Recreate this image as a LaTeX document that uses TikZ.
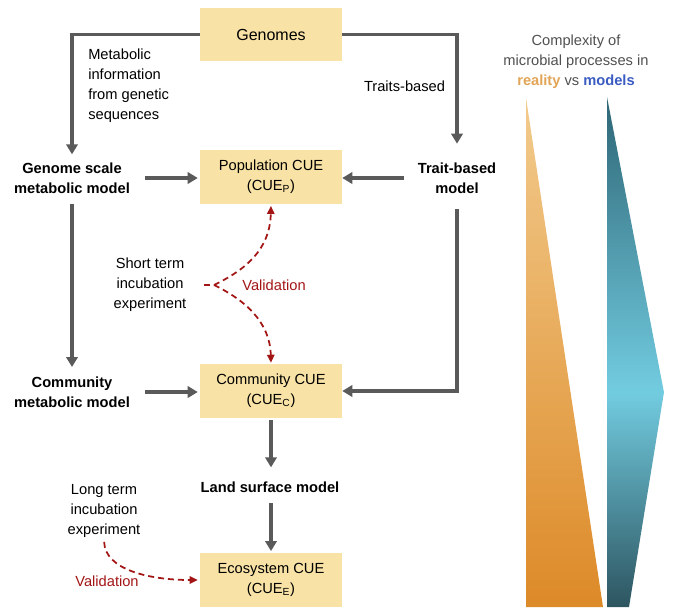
\documentclass[tikz,border=0pt]{standalone}
\usepackage{fontspec}
\setmainfont{Liberation Sans}
\usetikzlibrary{arrows.meta}
\definecolor{boxfill}{HTML}{F8E2A6}
\definecolor{arrowgray}{HTML}{5A5A5A}
\definecolor{valred}{HTML}{A31515}
\definecolor{txtgray}{HTML}{505050}
\definecolor{realorange}{HTML}{E2A456}
\definecolor{modelblue}{HTML}{3A5CC2}
\definecolor{orangetop}{HTML}{F2CB8D}
\definecolor{orangebot}{HTML}{DD8A28}
\definecolor{tealtop}{HTML}{2E6676}
\definecolor{tealmid}{HTML}{72CCE0}
\definecolor{tealbot}{HTML}{2D5560}
\begin{document}
\begin{tikzpicture}[x=0.75pt,y=-0.75pt,
  font=\fontsize{11}{15}\selectfont,
  cuebox/.style={fill=boxfill, minimum width=106.5pt, minimum height=40pt, inner sep=0, align=center},
  plain/.style={inner sep=0, align=center},
  boldtxt/.style={inner sep=0, align=center, font=\fontsize{11}{15}\selectfont\bfseries},
  flow/.style={draw=arrowgray, line width=2.4pt, -{Triangle[length=7.5pt,width=8.5pt]}},
  valid/.style={draw=valred, line width=1.3pt, dash pattern=on 4.5pt off 3pt, -{Triangle[length=6pt,width=5.5pt]}},
]
\useasboundingbox (0,0) rectangle (680,615);

% boxes
\node[cuebox, font=\fontsize{12}{15}\selectfont] (genomes) at (271,34.5) {Genomes};
\node[cuebox] (pop) at (271,177) {Population CUE\\(CUE\textsubscript{P})};
\node[cuebox] (comm) at (271,391) {Community CUE\\(CUE\textsubscript{C})};
\node[cuebox] (eco) at (271,580) {Ecosystem CUE\\(CUE\textsubscript{E})};

% text nodes
\node[plain, align=left, anchor=west] (met) at (88,86) {Metabolic\\information\\from genetic\\sequences};
\node[plain] (traits) at (404.5,86) {Traits-based};
\node[boldtxt] (gsmm) at (72,178) {Genome scale\\metabolic model};
\node[boldtxt] (tbm) at (457,178) {Trait-based\\model};
\node[boldtxt] (cmm) at (72,392) {Community\\metabolic model};
\node[boldtxt] (land) at (270,487) {Land surface model};
\node[plain] (short) at (150,285) {Short term\\incubation\\experiment};
\node[plain, text=valred] (val1) at (274,285) {Validation};
\node[plain] (long) at (104,511) {Long term\\incubation\\experiment};
\node[plain, text=valred] (val2) at (107,581) {Validation};
\node[plain, text=txtgray] (compl) at (576,62) {Complexity of\\microbial processes in\\{\color{realorange}\bfseries reality} vs {\color{modelblue}\bfseries models}};

% grey flow arrows
\draw[flow, shorten >=6pt] (genomes.west) -| (gsmm.north);
\draw[flow, shorten >=14pt] (genomes.east) -| (tbm.north);
\draw[flow, shorten <=11pt, shorten >=1.5pt] (gsmm.east) -- (gsmm.east -| pop.west);
\draw[flow, shorten <=10pt] (tbm.west) -- (tbm.west -| pop.east);
\draw[flow, shorten <=8pt, shorten >=7pt] (gsmm.south) -- (cmm.north);
\draw[flow, shorten <=11pt, shorten >=1.5pt] (cmm.east) -- (cmm.east -| comm.west);
\draw[flow, shorten <=11.6pt] (tbm.south) |- (comm.east);
\draw[flow, shorten <=1.5pt, shorten >=10.5pt] (comm.south) -- (comm.south |- land.north);
\draw[flow, shorten <=8pt, shorten >=1.5pt] (land.south -| eco.north) -- (eco.north);

% validation arrows
\coordinate (split) at (214,285);
\draw[draw=valred, line width=1.3pt, dash pattern=on 4.5pt off 3pt, shorten <=13pt] (short.east) -- (split);
\draw[valid, shorten >=1.5pt] (split) .. controls (245,270) and (270,250) .. (pop.south);
\draw[valid, shorten >=1pt] (split) .. controls (245,300) and (270,322) .. (comm.north);
\draw[valid, shorten <=3pt, shorten >=1.5pt] (long.south) .. controls (105,570) and (150,580) .. (eco.west);

% complexity wedges
\shade[top color=orangetop, bottom color=orangebot] (526,98) -- (603,607) -- (526,607) -- cycle;
\shade[top color=tealtop, bottom color=tealmid] (607,97) -- (664,392.5) -- (607,392.5) -- cycle;
\shade[top color=tealmid, bottom color=tealbot] (607,392) -- (664,392) -- (629,607) -- (607,607) -- cycle;
\end{tikzpicture}
\end{document}
